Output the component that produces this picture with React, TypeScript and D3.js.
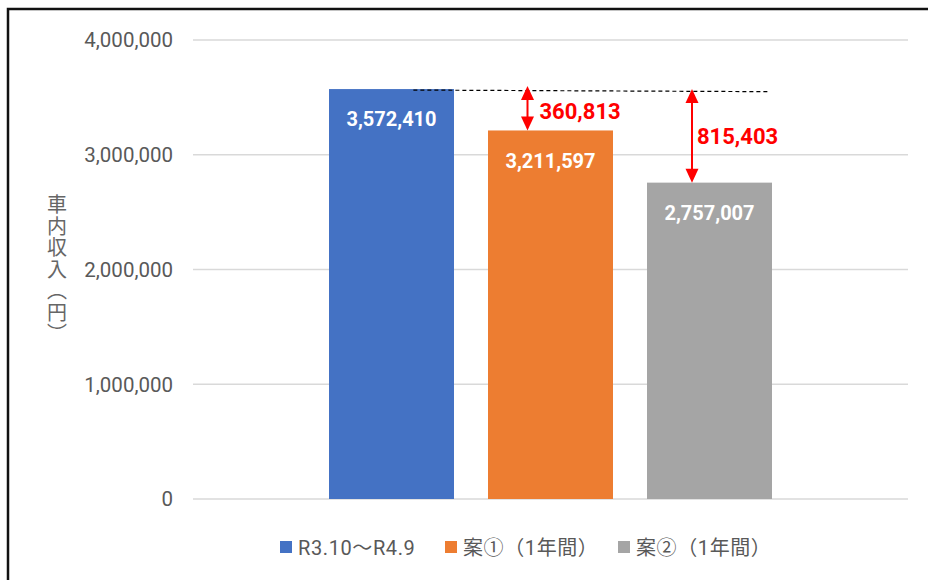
import React from "react";
import * as d3 from "d3";

const series = ["R3.10～R4.9", "案①（1年間）", "案②（1年間）"];
const values = [3572410, 3211597, 2757007];
const colors = ["#4472C4", "#ED7D31", "#A5A5A5"];
const yTicks = [0, 1000000, 2000000, 3000000, 4000000];
const yTitle = "車内収入（円）";

const W = 928;
const H = 580;

export default function App() {
  const y = d3.scaleLinear().domain([0, 4000000]).range([499, 40]);
  const plotLeft = 193;
  const plotRight = 908;
  const groupW = 443;
  const gx0 = (plotLeft + plotRight) / 2 - groupW / 2;
  const x = d3
    .scaleBand<string>()
    .domain(series)
    .range([gx0, gx0 + groupW])
    .paddingInner(34 / 159)
    .paddingOuter(0);
  const bw = x.bandwidth();
  const fmt = d3.format(",");
  const base = values[0];
  const diffs = values.map((v) => base - v);

  const arrowOffsets = [0, -23, -17.5];
  const arrowTopTips = [0, y(base) - 3, y(base)];
  const diffLabelPos = [null, { dx: 12, y: 119 }, { dx: 5, y: 144 }];

  const head = 14;
  const headW = 13;

  const legendX = [280, 445, 618];
  const legendY = 548;

  return (
    <svg
      width={W}
      height={H}
      style={{ position: "absolute", left: 0, top: 0, background: "#fff" }}
      fontFamily="Roboto, 'Noto Sans CJK JP', sans-serif"
    >
      <rect x={0} y={0} width={W} height={H} fill="#fff" />
      <path d={`M8,${H + 2} V9 H${W + 2}`} fill="none" stroke="#111" strokeWidth={2.5} />

      {yTicks.map((t) => (
        <line
          key={t}
          x1={plotLeft}
          x2={plotRight}
          y1={y(t)}
          y2={y(t)}
          stroke="#D9D9D9"
          strokeWidth={1.5}
        />
      ))}
      {yTicks.map((t) => (
        <text
          key={"l" + t}
          x={173}
          y={y(t)}
          dy="0.36em"
          textAnchor="end"
          fontSize={20.5}
          fill="#595959"
        >
          {fmt(t)}
        </text>
      ))}

      <text
        x={57}
        y={270}
        textAnchor="middle"
        fontSize={20}
        letterSpacing={1.5}
        fill="#666"
        fontFamily="'Noto Sans CJK JP', sans-serif"
        style={{ writingMode: "vertical-rl" as any }}
      >
        {yTitle}
      </text>

      {series.map((s, i) => (
        <rect
          key={s}
          x={x(s)}
          y={y(values[i])}
          width={bw}
          height={y(0) - y(values[i])}
          fill={colors[i]}
        />
      ))}
      {series.map((s, i) => (
        <text
          key={"v" + s}
          x={(x(s) as number) + bw / 2}
          y={y(values[i]) + 30}
          dy="0.36em"
          textAnchor="middle"
          fontSize={20}
          fontWeight="bold"
          fill="#fff"
        >
          {fmt(values[i])}
        </text>
      ))}

      <line
        x1={(x(series[0]) as number) + bw * 0.675}
        x2={(x(series[2]) as number) + bw * 0.985}
        y1={y(base) + 1}
        y2={y(base) + 2.6}
        stroke="#000"
        strokeWidth={1.2}
        strokeDasharray="4 3"
      />

      {series.map((s, i) => {
        if (i === 0) return null;
        const ax = (x(s) as number) + bw / 2 + arrowOffsets[i];
        const top = arrowTopTips[i];
        const bot = y(values[i]);
        const lp = diffLabelPos[i]!;
        return (
          <g key={"a" + s}>
            <line x1={ax} x2={ax} y1={top + head - 1} y2={bot - head + 1} stroke="#FF0000" strokeWidth={2} />
            <path
              d={`M${ax},${top} L${ax - headW / 2},${top + head} L${ax + headW / 2},${top + head} Z`}
              fill="#FF0000"
            />
            <path
              d={`M${ax},${bot} L${ax - headW / 2},${bot - head} L${ax + headW / 2},${bot - head} Z`}
              fill="#FF0000"
            />
            <text
              x={ax + lp.dx}
              y={lp.y}
              fontSize={22}
              fontWeight="bold"
              fill="#FF0000"
            >
              {fmt(diffs[i])}
            </text>
          </g>
        );
      })}

      {series.map((s, i) => (
        <g key={"lg" + s}>
          <rect x={legendX[i]} y={legendY - 7} width={12} height={12} fill={colors[i]} />
          <text
            x={legendX[i] + 18}
            y={legendY}
            dy="0.36em"
            fontSize={20}
            letterSpacing={0.6}
            fill="#595959"
          >
            {s}
          </text>
        </g>
      ))}
    </svg>
  );
}
